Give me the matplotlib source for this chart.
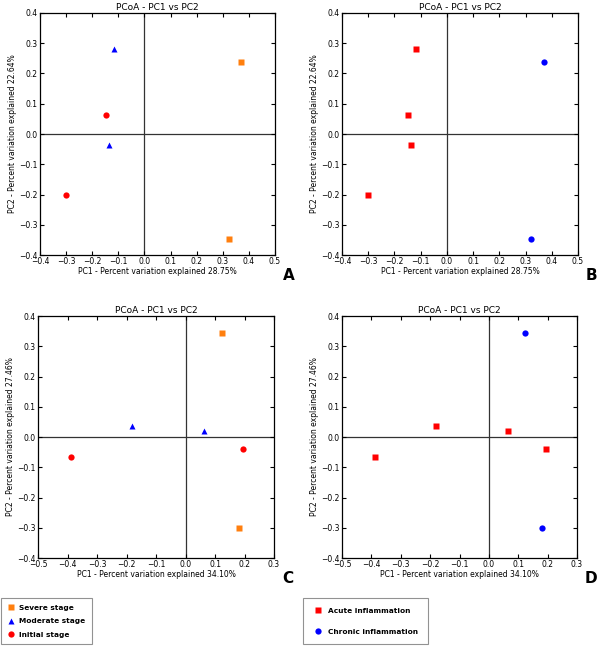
import matplotlib
matplotlib.use('Agg')
import matplotlib.pyplot as plt
from matplotlib.lines import Line2D

# panel A/B: PC1 28.75%, PC2 22.64%
ab_severe_x = [0.370, 0.322]
ab_severe_y = [0.238, -0.347]
ab_moderate_x = [-0.118, -0.135]
ab_moderate_y = [0.280, -0.035]
ab_initial_x = [-0.148, -0.302]
ab_initial_y = [0.062, -0.202]

# panel C/D: PC1 34.10%, PC2 27.46%
cd_severe_x = [0.123, 0.182]
cd_severe_y = [0.345, -0.302]
cd_moderate_x = [-0.181, 0.064]
cd_moderate_y = [0.037, 0.020]
cd_initial_x = [-0.387, 0.196]
cd_initial_y = [-0.067, -0.040]

ab_xticks = [-0.4, -0.3, -0.2, -0.1, 0.0, 0.1, 0.2, 0.3, 0.4, 0.5]
cd_xticks = [-0.5, -0.4, -0.3, -0.2, -0.1, 0.0, 0.1, 0.2, 0.3]
yticks = [-0.4, -0.3, -0.2, -0.1, 0.0, 0.1, 0.2, 0.3, 0.4]

ORANGE = '#ff7f0e'
W, H = 600, 647
fig = plt.figure(figsize=(W / 100, H / 100), dpi=100)


def px_axes(left, top, right, bottom):
    return fig.add_axes([left / W, 1 - bottom / H, (right - left) / W, (bottom - top) / H])


def setup(ax, xticks, xlabel, ylabel, letter):
    ax.axhline(0, color='#333333', lw=0.9, zorder=1)
    ax.axvline(0, color='#333333', lw=0.9, zorder=1)
    ax.set_xlim(xticks[0], xticks[-1])
    ax.set_ylim(-0.4, 0.4)
    ax.set_xticks(xticks)
    ax.set_yticks(yticks)
    ax.set_xticklabels([f'{t:.1f}'.replace('-', '\u2212') for t in xticks])
    ax.set_yticklabels([f'{t:.1f}'.replace('-', '\u2212') for t in yticks])
    ax.tick_params(direction='in', top=True, right=True, labelsize=5.5,
                   length=3, width=0.8, pad=1.5)
    for s in ax.spines.values():
        s.set_linewidth(0.9)
    ax.set_title('PCoA - PC1 vs PC2', fontsize=6.5, pad=2)
    ax.set_xlabel(xlabel, fontsize=5.5, labelpad=1)
    ax.set_ylabel(ylabel, fontsize=5.5, labelpad=2)
    ax.text(1.033, -0.055, letter, transform=ax.transAxes, fontsize=11,
            fontweight='bold', ha='left', va='top')


def stage_panel(ax, sx, sy, mx, my, ix, iy):
    ax.plot(sx, sy, 's', color=ORANGE, ms=4, mec='none', zorder=3)
    ax.plot(mx, my, '^', color='blue', ms=4.5, mec='none', zorder=3)
    ax.plot(ix, iy, 'o', color='red', ms=4.5, mec='none', zorder=3)


def inflam_panel(ax, sx, sy, mx, my, ix, iy):
    ax.plot(mx + ix, my + iy, 's', color='red', ms=4, mec='none', zorder=3)
    ax.plot(sx, sy, 'o', color='blue', ms=4.5, mec='none', zorder=3)


lab_ab_x = 'PC1 - Percent variation explained 28.75%'
lab_ab_y = 'PC2 - Percent variation explained 22.64%'
lab_cd_x = 'PC1 - Percent variation explained 34.10%'
lab_cd_y = 'PC2 - Percent variation explained 27.46%'

axA = px_axes(40, 13, 275, 255)
stage_panel(axA, ab_severe_x, ab_severe_y, ab_moderate_x, ab_moderate_y, ab_initial_x, ab_initial_y)
setup(axA, ab_xticks, lab_ab_x, lab_ab_y, 'A')

axB = px_axes(342, 13, 578, 255)
inflam_panel(axB, ab_severe_x, ab_severe_y, ab_moderate_x, ab_moderate_y, ab_initial_x, ab_initial_y)
setup(axB, ab_xticks, lab_ab_x, lab_ab_y, 'B')

axC = px_axes(38, 316, 274, 558)
stage_panel(axC, cd_severe_x, cd_severe_y, cd_moderate_x, cd_moderate_y, cd_initial_x, cd_initial_y)
setup(axC, cd_xticks, lab_cd_x, lab_cd_y, 'C')

axD = px_axes(342, 316, 577, 558)
inflam_panel(axD, cd_severe_x, cd_severe_y, cd_moderate_x, cd_moderate_y, cd_initial_x, cd_initial_y)
setup(axD, cd_xticks, lab_cd_x, lab_cd_y, 'D')

# legends
stage_handles = [
    Line2D([], [], ls='none', marker='s', color=ORANGE, ms=4, mec='none'),
    Line2D([], [], ls='none', marker='^', color='blue', ms=4.5, mec='none'),
    Line2D([], [], ls='none', marker='o', color='red', ms=4.5, mec='none'),
]
leg1 = fig.legend(stage_handles, ['Severe stage', 'Moderate stage', 'Initial stage'],
                  loc='upper left', bbox_to_anchor=(1 / W, 1 - 598 / H),
                  prop={'size': 5.3, 'weight': 'bold'}, frameon=True, fancybox=False,
                  edgecolor='#777777', handlelength=1, handletextpad=0.6,
                  borderpad=0.9, labelspacing=1.0, borderaxespad=0)
leg1.get_frame().set_linewidth(0.8)

inflam_handles = [
    Line2D([], [], ls='none', marker='s', color='red', ms=4, mec='none'),
    Line2D([], [], ls='none', marker='o', color='blue', ms=4.5, mec='none'),
]
leg2 = fig.legend(inflam_handles, ['Acute inflammation', 'Chronic inflammation'],
                  loc='upper left', bbox_to_anchor=(303 / W, 1 - 598 / H),
                  prop={'size': 5.3, 'weight': 'bold'}, frameon=True, fancybox=False,
                  edgecolor='#777777', handlelength=1.5, handletextpad=0.6,
                  borderpad=1.3, labelspacing=2.0, borderaxespad=0)
leg2.get_frame().set_linewidth(0.8)

fig.savefig('out.png', dpi=100)
